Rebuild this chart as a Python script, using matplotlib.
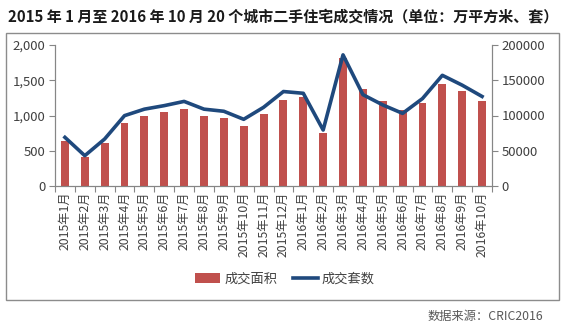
import numpy as np
import matplotlib
matplotlib.use('Agg')
import matplotlib.pyplot as plt
from matplotlib.ticker import FuncFormatter, FixedLocator
from matplotlib.patches import Rectangle

plt.rcParams['font.family'] = ['Noto Sans CJK SC', 'DejaVu Sans']

# 数据
meses = ['2015年1月', '2015年2月', '2015年3月', '2015年4月', '2015年5月', '2015年6月',
         '2015年7月', '2015年8月', '2015年9月', '2015年10月', '2015年11月', '2015年12月',
         '2016年1月', '2016年2月', '2016年3月', '2016年4月', '2016年5月', '2016年6月',
         '2016年7月', '2016年8月', '2016年9月', '2016年10月']
area = [640, 410, 610, 895, 995, 1050, 1092, 995, 965, 851, 1021, 1220,
        1262, 752, 1816, 1376, 1206, 1078, 1177, 1447, 1348, 1206]
taoshu = [69000, 43000, 66700, 99800, 109000, 114000, 120000, 109000, 106000, 94600, 111600, 134000,
          131500, 79400, 186000, 129600, 115000, 103000, 124000, 157000, 143000, 127000]

cor_barra = '#C0504D'
cor_linha = '#1F497D'
cor_texto = '#404040'
cor_eixo = '#868686'

fig = plt.figure(figsize=(5.63, 3.26), dpi=100)

# moldura externa
fig.patches.append(Rectangle((6 / 563, 1 - 300 / 326), 553 / 563, 267 / 326,
                             transform=fig.transFigure, fill=False,
                             edgecolor='#8C8C8C', linewidth=1.0))

ax = fig.add_axes([55 / 563, 1 - 186 / 326, 437 / 563, 141 / 326])
x = np.arange(len(meses))
ax.bar(x, area, width=0.4, color=cor_barra, label='成交面积', zorder=2)
ax.set_xlim(-0.5, len(meses) - 0.5)
ax.set_ylim(0, 2000)
ax.set_yticks([0, 500, 1000, 1500, 2000])
ax.yaxis.set_major_formatter(FuncFormatter(lambda v, p: f'{int(v):,}'))

ax2 = ax.twinx()
ax2.plot(x, taoshu, color=cor_linha, linewidth=2.6, label='成交套数', zorder=3)
ax2.set_ylim(0, 200000)
ax2.set_yticks([0, 50000, 100000, 150000, 200000])
ax2.yaxis.set_major_formatter(FuncFormatter(lambda v, p: f'{int(v)}'))

for a in (ax, ax2):
    a.spines['top'].set_visible(False)
    for s in ('left', 'right', 'bottom'):
        a.spines[s].set_color(cor_eixo)
        a.spines[s].set_linewidth(0.8)
    a.tick_params(axis='y', colors=cor_eixo, labelcolor=cor_texto, labelsize=9.5,
                  length=4, width=0.8, pad=3)

ax.set_xticks(x)
ax.set_xticklabels(meses, rotation=90, fontsize=8.8, color=cor_texto)
ax.tick_params(axis='x', which='major', length=0, pad=4)
ax.xaxis.set_minor_locator(FixedLocator(np.arange(-0.5, len(meses), 1)))
ax.tick_params(axis='x', which='minor', length=4, width=0.8, color=cor_eixo)

fig.text(0.503, 1 - 17 / 326, '2015 年 1 月至 2016 年 10 月 20 个城市二手住宅成交情况（单位：万平方米、套）',
         ha='center', va='center', fontsize=10.8, fontweight='bold', color='#1a1a1a')

h1, l1 = ax.get_legend_handles_labels()
h2, l2 = ax2.get_legend_handles_labels()
fig.legend(h1 + h2, l1 + l2, loc='center', bbox_to_anchor=(285 / 563, 1 - 279 / 326),
           ncol=2, frameon=False, fontsize=9.5, handlelength=1.9, columnspacing=1.2,
           handletextpad=0.3, labelcolor=cor_texto)

fig.text(543 / 563, 1 - 316 / 326, '数据来源：CRIC2016', ha='right', va='center',
         fontsize=8.8, color='#595959')

fig.savefig('out.png', dpi=100)
